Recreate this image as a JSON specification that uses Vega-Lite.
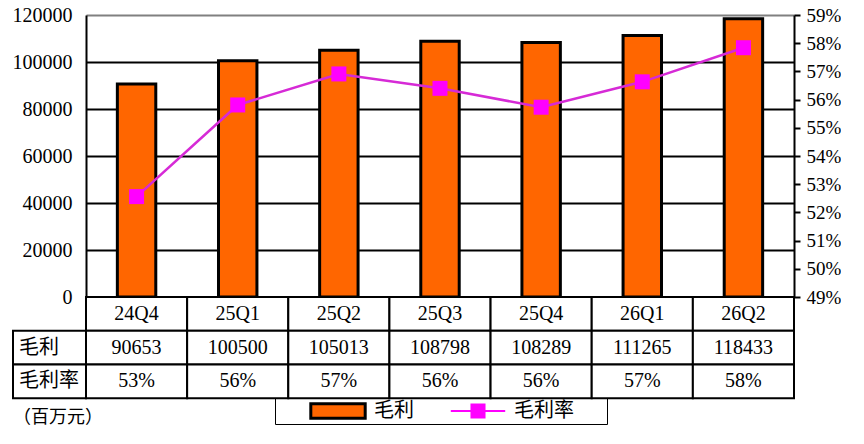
{
  "$schema": "https://vega.github.io/schema/vega-lite/v6.json",
  "padding": {"left": 12, "top": 5, "right": 0, "bottom": 0},
  "datasets": {
    "gp": [
      {"季度": "24Q4", "毛利": 90653, "毛利率": 0.5256},
      {"季度": "25Q1", "毛利": 100500, "毛利率": 0.5581},
      {"季度": "25Q2", "毛利": 105013, "毛利率": 0.5691},
      {"季度": "25Q3", "毛利": 108798, "毛利率": 0.564},
      {"季度": "25Q4", "毛利": 108289, "毛利率": 0.5573},
      {"季度": "26Q1", "毛利": 111265, "毛利率": 0.5663},
      {"季度": "26Q2", "毛利": 118433, "毛利率": 0.5784}
    ]
  },
  "spacing": 0,
  "bounds": "flush",
  "vconcat": [
    {
      "width": 708,
      "height": 282,
      "data": {"name": "gp"},
      "layer": [
        {
          "mark": {"type": "bar", "stroke": "black", "strokeWidth": 3, "width": {"band": 0.38}},
          "encoding": {
            "x": {"field": "季度", "type": "nominal", "scale": {"paddingInner": 0, "paddingOuter": 0}, "axis": null},
            "y": {
              "field": "毛利",
              "type": "quantitative",
              "scale": {"domain": [0, 120000]},
              "axis": {
                "values": [0, 20000, 40000, 60000, 80000, 100000, 120000],
                "format": "d",
                "title": null,
                "grid": true,
                "gridColor": {"condition": {"test": "datum.value === 120000", "value": "#808080"}, "value": "black"},
                "gridWidth": 2,
                "domainColor": "black",
                "domainWidth": 2,
                "ticks": false,
                "labelPadding": 14,
                "labelFontSize": 20
              }
            },
            "fill": {
              "datum": "毛利",
              "type": "nominal",
              "scale": {"range": ["#FF6600"]},
              "legend": {
                "orient": "none",
                "legendX": 189,
                "legendY": 381,
                "title": null,
                "padding": 5,
                "symbolType": "M-3.4,-0.9H3.4V0.9H-3.4Z",
                "symbolSize": 256,
                "symbolStrokeColor": "black",
                "symbolStrokeWidth": 3,
                "symbolOffset": 48,
                "labelOffset": 26,
                "labelFont": "Noto Sans CJK SC",
                "labelFontSize": 20,
                "labelColor": "black"
              }
            }
          }
        },
        {
          "encoding": {
            "x": {"field": "季度", "type": "nominal", "axis": null},
            "y": {
              "field": "毛利率",
              "type": "quantitative",
              "scale": {"domain": [0.49, 0.59], "zero": false},
              "axis": {
                "orient": "right",
                "values": [0.49, 0.5, 0.51, 0.52, 0.53, 0.54, 0.55, 0.56, 0.57, 0.58, 0.59],
                "format": ".0%",
                "title": null,
                "grid": false,
                "domainColor": "black",
                "domainWidth": 2,
                "tickColor": "black",
                "tickWidth": 2,
                "tickSize": 6,
                "labelPadding": 6,
                "labelFontSize": 19
              }
            }
          },
          "layer": [
            {"mark": {"type": "line", "color": "#D62AD6", "strokeWidth": 2.5}},
            {
              "mark": {"type": "point", "shape": "square", "size": 225, "filled": true, "opacity": 1},
              "encoding": {
                "color": {
                  "datum": "毛利率",
                  "type": "nominal",
                  "scale": {"range": ["#FF00FF"]},
                  "legend": {
                    "orient": "none",
                    "legendX": 189,
                    "legendY": 383,
                    "title": null,
                    "padding": 3,
                    "strokeColor": "black",
                    "symbolType": "M-3.4,-0.14H-0.94V-0.94H0.94V-0.14H3.4V0.14H0.94V0.94H-0.94V0.14H-3.4Z",
                    "symbolSize": 256,
                    "symbolStrokeWidth": 0,
                    "symbolOpacity": 1,
                    "symbolOffset": 190,
                    "labelOffset": 26,
                    "labelFont": "Noto Sans CJK SC",
                    "labelFontSize": 20,
                    "labelColor": "black",
                    "labelExpr": "datum.label + '\u2800\u2800'",
                    "encode": {"legend": {"strokeWidth": {"value": 2}}}
                  }
                }
              }
            }
          ]
        }
      ],
      "resolve": {"scale": {"y": "independent"}}
    },
    {
      "width": 708,
      "height": 135,
      "data": {"name": "gp"},
      "layer": [
        {
          "transform": [{"fold": ["季度", "毛利", "毛利率"], "as": ["行", "值"]}],
          "mark": {"type": "rect", "fill": "white", "stroke": "black", "strokeWidth": 2},
          "encoding": {
            "x": {"field": "季度", "type": "nominal", "scale": {"type": "band", "paddingInner": 0, "paddingOuter": 0}, "axis": null},
            "y": {
              "field": "行",
              "type": "nominal",
              "scale": {"domain": ["季度", "毛利", "毛利率", "（百万元）"], "paddingInner": 0, "paddingOuter": 0},
              "axis": null
            }
          }
        },
        {
          "mark": {"type": "text", "fontSize": 20},
          "encoding": {
            "x": {"field": "季度", "type": "nominal", "axis": null},
            "y": {"datum": "季度", "type": "nominal"},
            "text": {"field": "季度"}
          }
        },
        {
          "mark": {"type": "text", "fontSize": 20},
          "encoding": {
            "x": {"field": "季度", "type": "nominal", "axis": null},
            "y": {"datum": "毛利", "type": "nominal"},
            "text": {"field": "毛利", "format": "d"}
          }
        },
        {
          "mark": {"type": "text", "fontSize": 20},
          "encoding": {
            "x": {"field": "季度", "type": "nominal", "axis": null},
            "y": {"datum": "毛利率", "type": "nominal"},
            "text": {"field": "毛利率", "format": ".0%"}
          }
        },
        {
          "data": {"values": [{"行": "毛利"}, {"行": "毛利率"}, {"行": "（百万元）"}]},
          "encoding": {
            "x": {"datum": "项目", "type": "nominal", "scale": {"type": "band", "range": [-73, 0], "paddingInner": 0, "paddingOuter": 0}, "axis": null},
            "y": {"field": "行", "type": "nominal"}
          },
          "layer": [
            {
              "transform": [{"filter": "datum['行'] !== '（百万元）'"}],
              "mark": {"type": "rect", "fill": "white", "stroke": "black", "strokeWidth": 2}
            },
            {
              "transform": [{"filter": "datum['行'] !== '（百万元）'"}],
              "mark": {"type": "text", "align": "left", "dx": 6, "fontSize": 20, "font": "Noto Sans CJK SC"},
              "encoding": {
                "x": {"datum": "项目", "type": "nominal", "bandPosition": 0},
                "text": {"field": "行"}
              }
            },
            {
              "transform": [{"filter": "datum['行'] === '（百万元）'"}],
              "mark": {"type": "text", "align": "left", "dx": 0, "dy": 3, "fontSize": 18, "font": "Noto Sans CJK SC"},
              "encoding": {
                "x": {"datum": "项目", "type": "nominal", "bandPosition": 0},
                "text": {"field": "行"}
              }
            }
          ]
        }
      ],
      "resolve": {"scale": {"x": "independent"}}
    }
  ],
  "config": {
    "view": {"stroke": null},
    "font": "Liberation Serif, Noto Sans CJK SC",
    "text": {"font": "Liberation Serif, Noto Sans CJK SC", "color": "black"},
    "axis": {"labelFont": "Liberation Serif, Noto Sans CJK SC", "labelColor": "black"}
  }
}
